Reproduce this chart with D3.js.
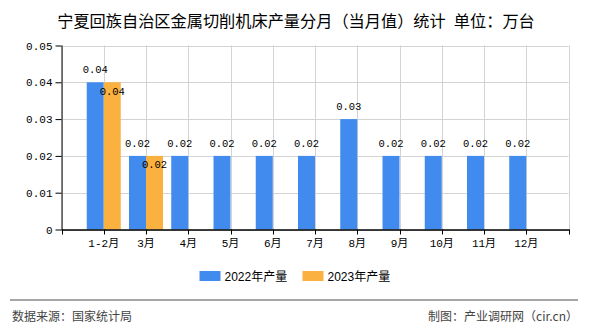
<!DOCTYPE html>
<html><head><meta charset="utf-8">
<script src="https://cdn.jsdelivr.net/npm/d3@7"></script>
<style>body{margin:0;background:#fff;}svg{display:block;}</style>
</head><body>
<svg id="c" width="590" height="330"></svg>
<script>
const categories = ["1-2月","3月","4月","5月","6月","7月","8月","9月","10月","11月","12月"];
const series2022 = [0.04,0.02,0.02,0.02,0.02,0.02,0.03,0.02,0.02,0.02,0.02];
const series2023 = [0.04,0.02];
const yTicks = [0,0.01,0.02,0.03,0.04,0.05];
const yTickLabels = ["0","0.01","0.02","0.03","0.04","0.05"];
const seriesNames = ["2022年产量","2023年产量"];
const colors = ["#428BEE","#FBB13F"];

const svg = d3.select("#c");
const L = 61.5, R = 568.5, T = 45.5, B = 229.5;
const x = d3.scaleLinear().domain([-1, categories.length]).range([L, R]);
const y = d3.scaleLinear().domain([0, 0.05]).range([B, T]);
const barW = 17;
const mono = "'Liberation Mono','Noto Sans CJK SC',monospace";
const cjk = "'Noto Sans CJK SC','Liberation Sans',sans-serif";

// title
svg.append("text").attr("x", 296).attr("y", 27).attr("text-anchor","middle")
  .attr("font-family", cjk).attr("font-size", 16.2).attr("fill","#000")
  .text("宁夏回族自治区金属切削机床产量分月（当月值）统计\u2002单位：万台");

// grid
const g = svg.append("g");
g.selectAll("line.h").data(yTicks).enter().append("line")
  .attr("x1", L).attr("x2", R).attr("y1", d=>Math.round(y(d))+0.5).attr("y2", d=>Math.round(y(d))+0.5)
  .attr("stroke","#d3d3d3").attr("stroke-width",1);
const vIdx = d3.range(-1, categories.length+1);
g.selectAll("line.v").data(vIdx).enter().append("line")
  .attr("x1", d=>Math.round(x(d))+0.5).attr("x2", d=>Math.round(x(d))+0.5).attr("y1", T).attr("y2", B)
  .attr("stroke","#d3d3d3").attr("stroke-width",1);

// bars
const bars = svg.append("g");
bars.selectAll("rect.s1").data(series2022).enter().append("rect")
  .attr("x", (d,i)=>x(i)-barW).attr("width", barW)
  .attr("y", d=>y(d)).attr("height", d=>B-y(d)).attr("fill", colors[0]);
bars.selectAll("rect.s2").data(series2023).enter().append("rect")
  .attr("x", (d,i)=>x(i)).attr("width", barW)
  .attr("y", d=>y(d)).attr("height", d=>B-y(d)).attr("fill", colors[1]);

// axes
const yAxis = d3.axisLeft(y).tickValues(yTicks).tickFormat((d,i)=>yTickLabels[i]).tickSize(6).tickPadding(3);
const ya = svg.append("g").attr("transform",`translate(${L},0)`).call(yAxis);
ya.select(".domain").attr("stroke","#000").attr("d", `M0.5,${T}V${B}`);
ya.selectAll(".tick line").attr("stroke","#000");
ya.selectAll(".tick text").attr("font-family", mono).attr("font-size", 11).attr("fill","#000");

const xa = svg.append("g").attr("transform",`translate(0,${B})`);
xa.append("line").attr("x1", L).attr("x2", R+1).attr("y1", 0.5).attr("y2", 0.5).attr("stroke","#000").attr("stroke-width",1.5);
xa.selectAll("line.t").data(vIdx).enter().append("line")
  .attr("x1", d=>Math.round(x(d))+0.5).attr("x2", d=>Math.round(x(d))+0.5).attr("y1", 0).attr("y2", 5).attr("stroke","#000");
xa.selectAll("text").data(categories).enter().append("text")
  .attr("x", (d,i)=>x(i)).attr("y", 17).attr("text-anchor","middle")
  .attr("font-family", mono).attr("font-size", 11).attr("fill","#000").text(d=>d);

// labels
const lab = svg.append("g").attr("font-family", mono).attr("font-size", 10.5).attr("fill","#000").attr("text-anchor","middle");
lab.selectAll("text.a").data(series2022).enter().append("text")
  .attr("x",(d,i)=>x(i)-barW/2).attr("y", d=>y(d)-9).text(d=>d3.format(".2f")(d));
lab.selectAll("text.b").data(series2023).enter().append("text")
  .attr("x",(d,i)=>x(i)+barW/2).attr("y", d=>y(d)+12.5).text(d=>d3.format(".2f")(d));

// legend
const lg = svg.append("g");
const legX = [199.5, 302.5];
seriesNames.forEach((n,i)=>{
  lg.append("rect").attr("x", legX[i]).attr("y", 271).attr("width", 21).attr("height", 10).attr("fill", colors[i]);
  lg.append("text").attr("x", legX[i]+25).attr("y", 281).attr("font-family", "'Liberation Sans','Noto Sans CJK SC',sans-serif")
    .attr("font-size", 12).attr("fill","#000").text(n);
});

// footer
svg.append("line").attr("x1", 10).attr("x2", 578).attr("y1", 300).attr("y2", 300).attr("stroke","#888").attr("stroke-width",1.5);
svg.append("text").attr("x", 12).attr("y", 321).attr("font-family", cjk).attr("font-size", 12).attr("fill","#444").text("数据来源：国家统计局");
svg.append("text").attr("x", 578).attr("y", 321).attr("text-anchor","end").attr("font-family", cjk).attr("font-size", 12).attr("fill","#444").text("制图：产业调研网（cir.cn）");
</script>
</body></html>
